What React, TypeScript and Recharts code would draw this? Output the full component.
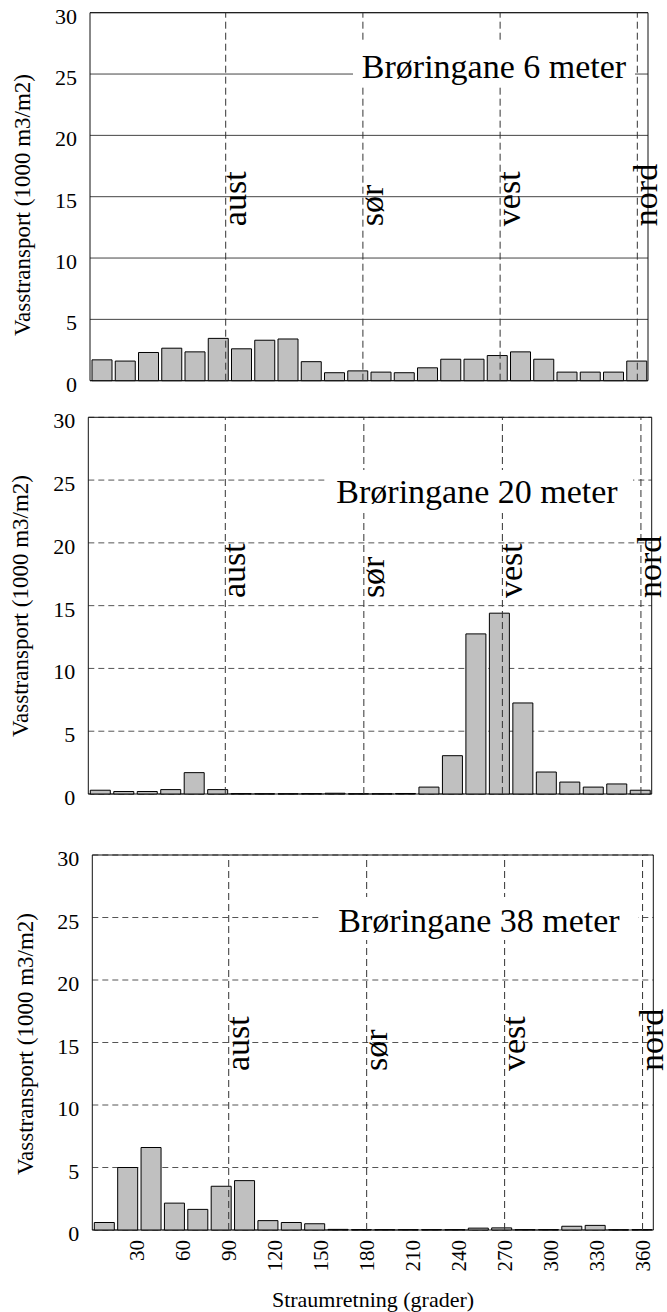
import { BarChart, Bar, XAxis, YAxis, CartesianGrid, ReferenceLine, ReferenceArea } from 'recharts';

const FONT = '"Liberation Serif", "Times New Roman", Times, serif';

// 15-degree direction bins (bin centres, degrees)
const binCenters = [
  7.5, 22.5, 37.5, 52.5, 67.5, 82.5, 97.5, 112.5, 127.5, 142.5, 157.5, 172.5,
  187.5, 202.5, 217.5, 232.5, 247.5, 262.5, 277.5, 292.5, 307.5, 322.5, 337.5, 352.5,
];

// water transport, 1000 m3/m2
const transport6m = [
  1.7, 1.6, 2.3, 2.65, 2.35, 3.45, 2.6, 3.3, 3.4, 1.55, 0.65, 0.8,
  0.7, 0.65, 1.05, 1.75, 1.75, 2.05, 2.35, 1.75, 0.7, 0.7, 0.7, 1.6,
];
const transport20m = [
  0.3, 0.2, 0.2, 0.35, 1.7, 0.35, 0.03, 0.02, 0.02, 0.03, 0.06, 0.02,
  0.02, 0.04, 0.55, 3.05, 12.75, 14.4, 7.25, 1.75, 0.95, 0.55, 0.8, 0.3,
];
const transport38m = [
  0.6, 5.0, 6.6, 2.15, 1.65, 3.5, 3.95, 0.75, 0.6, 0.5, 0.05, 0.03,
  0.03, 0.03, 0.03, 0.03, 0.15, 0.17, 0.03, 0.03, 0.3, 0.37, 0.02, 0.03,
];

const yTicks = [0, 5, 10, 15, 20, 25, 30];
const xTicks = [30, 60, 90, 120, 150, 180, 210, 240, 270, 300, 330, 360];
const compassDegrees = [90, 180, 270, 360];
const compassNames = ['aust', 'sør', 'vest', 'nord'];

const panels = [
  {
    title: 'Brøringane 6 meter',
    values: transport6m,
    top: 0, height: 400,
    margin: { top: 12.7, right: 19, bottom: 19.3, left: 0 },
    yWidth: 90,
    dashedGrid: false,
    showX: false,
    labelFrac: 0.58,
    yLabel: { x: 29.5, y: 205 },
    titleBox: { x: 353, y: 43, w: 282, h: 44, tx: 494, ty: 78 },
  },
  {
    title: 'Brøringane 20 meter',
    values: transport20m,
    top: 400, height: 420,
    margin: { top: 17.3, right: 15.3, bottom: 26, left: 0 },
    yWidth: 88.3,
    dashedGrid: true,
    showX: false,
    labelFrac: 0.48,
    yLabel: { x: 28, y: 206 },
    titleBox: { x: 325, y: 70, w: 308, h: 43, tx: 477, ty: 103 },
  },
  {
    title: 'Brøringane 38 meter',
    values: transport38m,
    top: 830, height: 482,
    margin: { top: 25, right: 13.7, bottom: 0, left: 0 },
    yWidth: 92.3,
    dashedGrid: true,
    showX: true,
    labelFrac: 0.576,
    yLabel: { x: 33, y: 214 },
    titleBox: { x: 320, y: 67, w: 318, h: 43, tx: 479, ty: 102 },
  },
];

// top of the rotated x tick labels, local to the bottom panel
const X_TICK_TOP = 410;

const YTick = (props: any) => {
  const { x, y, payload } = props;
  return (
    <text x={x} y={y} dy={11} textAnchor="end" fontSize={22} fontFamily={FONT} fill="#000">
      {payload.value}
    </text>
  );
};

const XTick = (props: any) => {
  const { x, payload } = props;
  return (
    <text
      transform={`translate(${x},${X_TICK_TOP}) rotate(-90)`}
      textAnchor="end"
      dy="0.35em"
      fontSize={21}
      fontFamily={FONT}
      fill="#000"
    >
      {payload.value}
    </text>
  );
};

const CompassLabel = (props: any) => {
  const { viewBox, text, frac } = props;
  if (!viewBox) return null;
  const bx = viewBox.x + 20;
  const by = viewBox.y + viewBox.height * frac;
  return (
    <text
      transform={`translate(${bx},${by}) rotate(-90)`}
      textAnchor="start"
      fontSize={34}
      fontFamily={FONT}
      fill="#000"
    >
      {text}
    </text>
  );
};

function Panel({ p }: { p: (typeof panels)[number] }) {
  const data = binCenters.map((dir, i) => ({ dir, value: p.values[i] }));
  return (
    <div style={{ position: 'absolute', left: 0, top: p.top, width: 667, height: p.height }}>
      <BarChart width={667} height={p.height} data={data} margin={p.margin}>
        <CartesianGrid
          xAxisId="bar"
          vertical={false}
          stroke={p.dashedGrid ? '#555' : '#444'}
          strokeDasharray={p.dashedGrid ? '6 4' : undefined}
        />
        <XAxis xAxisId="bar" type="number" dataKey="dir" domain={[0, 360]} allowDataOverflow hide />
        <XAxis
          xAxisId="deg"
          type="number"
          dataKey="dir"
          domain={[1, 367]}
          allowDataOverflow
          ticks={xTicks}
          interval={0}
          hide={!p.showX}
          height={82}
          axisLine={false}
          tickLine={false}
          tickSize={0}
          tickMargin={10}
          tick={XTick}
        />
        <YAxis
          type="number"
          domain={[0, 30]}
          ticks={yTicks}
          interval={0}
          width={p.yWidth}
          axisLine={false}
          tickLine={false}
          tickSize={0}
          tickMargin={13}
          tick={YTick}
        />
        <Bar
          xAxisId="bar"
          dataKey="value"
          fill="#c0c0c0"
          stroke="#000"
          strokeWidth={1}
          barSize={20}
          isAnimationActive={false}
        />
        <ReferenceArea xAxisId="bar" x1={0} x2={360} y1={0} y2={30} fill="none" stroke="#111" strokeWidth={1} />
        {compassDegrees.map((d, i) => (
          <ReferenceLine
            key={d}
            xAxisId="deg"
            x={d}
            stroke="#333"
            strokeDasharray="7 4"
            label={<CompassLabel text={compassNames[i]} frac={p.labelFrac} />}
          />
        ))}
      </BarChart>
      <svg
        width={667}
        height={p.height}
        style={{ position: 'absolute', left: 0, top: 0, pointerEvents: 'none' }}
      >
        <text
          transform={`translate(${p.yLabel.x},${p.yLabel.y}) rotate(-90)`}
          textAnchor="middle"
          fontSize={23}
          fontFamily={FONT}
          fill="#000"
        >
          Vasstransport (1000 m3/m2)
        </text>
        <rect x={p.titleBox.x} y={p.titleBox.y} width={p.titleBox.w} height={p.titleBox.h} fill="#fff" />
        <text x={p.titleBox.tx} y={p.titleBox.ty} textAnchor="middle" fontSize={34} fontFamily={FONT} fill="#000">
          {p.title}
        </text>
        {p.showX && (
          <text x={373} y={477} textAnchor="middle" fontSize={22} fontFamily={FONT} fill="#000">
            Straumretning (grader)
          </text>
        )}
      </svg>
    </div>
  );
}

export default function App() {
  return (
    <div style={{ position: 'absolute', left: 0, top: 0, width: 667, height: 1312, background: '#fff' }}>
      {panels.map((p) => (
        <Panel key={p.title} p={p} />
      ))}
    </div>
  );
}
